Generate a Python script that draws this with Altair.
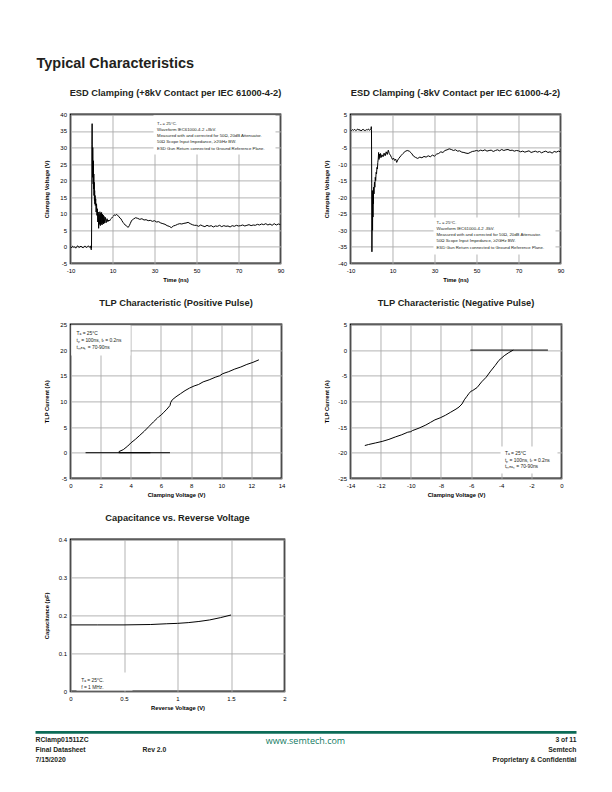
import altair as alt
import pandas as pd

NARROW = "Liberation Sans, Arial, sans-serif"
SANS = "Liberation Sans, Arial, sans-serif"
INK = "#231f20"
GREEN = "#0b6b57"
GRID = "#aaaaaa"

# ---------------- data ----------------
PRE_T = [-10, -9.5, -9, -8.5, -8, -7.5, -7, -6.5, -6, -5.5, -5, -4.5, -4, -3.5, -3,
         -2.5, -2, -1.5, -1, -0.5, -0.2, -0.1]

ESD_POS_T = PRE_T + [
    0.0, 0.1, 0.2, 0.3, 0.4, 0.5, 0.6, 0.7, 0.8, 0.9, 1.0, 1.1, 1.2, 1.3, 1.4, 1.5, 1.6,
    1.7, 1.8, 2.0, 2.2, 2.4, 2.6, 2.8, 3.0, 3.2, 3.4, 3.6, 3.8, 4.0, 4.2, 4.4, 4.6, 4.8,
    5.0, 5.2, 5.4, 5.6, 5.8, 6.0, 6.3, 6.6, 7.0, 7.4, 7.8, 8.2, 8.6, 9.0, 9.5,
    10, 10.5, 11, 11.5, 12, 12.5, 13, 13.5, 14, 14.5, 15, 15.5, 16, 16.5, 17, 17.5, 18,
    18.5, 19, 19.5, 20, 21, 22, 23, 24, 25, 26, 27, 28, 29, 30, 31, 32, 33, 34, 35, 36,
    37, 38, 39, 40, 41, 42, 43, 44, 45, 46, 47, 48, 49, 50, 51, 52, 53, 54, 55, 56, 57,
    58, 59, 60, 61, 62, 63, 64, 65, 66, 67, 68, 69, 70, 71, 72, 73, 74, 75, 76, 77, 78,
    79, 80, 81, 82, 83, 84, 85, 86, 87, 88, 89, 90]
ESD_POS_V = [
    0.1, -0.3, 0.2, -0.1, 0.0, -0.4, 0.1, 0.3, -0.2, 0.0, 0.2, -0.1, -0.3, 0.1, 0.2,
    -0.2, 0.0, 0.3, -0.1, 0.2, -0.7, -0.9,
    -0.5, 12, 31, 37.2, 26, 21, 30, 24, 19, 26, 17.5, 22, 15.5, 19.5, 14, 17, 13,
    15.5, 12.5, 14.5, 10.5, 13, 9.5, 11.5, 7.5, 10.5, 5.6, 9.8, 6.8, 10.6, 6.4, 10.2, 6.9, 10.4,
    6.6, 9.9, 7.1, 9.6, 6.9, 9.2, 7.2, 8.9, 7.3, 8.5, 7.6, 8.1, 7.8, 8.3, 8.6,
    9.0, 9.3, 9.7, 9.5, 9.8, 9.4, 9.2, 8.7, 8.5, 7.9, 7.4, 7.0, 6.6, 6.4, 6.1, 5.9, 6.4,
    7.1, 7.8, 8.2, 8.4, 8.8, 8.6, 8.3, 8.5, 8.1, 8.2, 7.9, 8.0, 7.7, 7.9, 7.5, 7.6, 7.2, 7.0, 6.8, 6.4,
    6.2, 5.8, 6.3, 6.5, 6.8, 7.0, 6.9, 7.1, 7.2, 7.4, 7.0, 6.7, 6.5, 6.5, 6.2, 6.6, 6.3, 6.1, 6.5, 6.2, 6.4,
    6.0, 6.3, 6.2, 6.5, 6.1, 6.4, 6.2, 6.3, 6.0, 6.4, 6.2, 6.5, 6.3, 6.4, 6.6, 6.3, 6.5, 6.7, 6.4,
    6.6, 6.5, 6.8, 6.6, 6.9, 6.7, 7.0, 6.6, 6.9, 6.5, 7.0, 6.6, 6.9, 6.7]

ESD_NEG_T = PRE_T + [
    0.0, 0.1, 0.2, 0.3, 0.4, 0.5, 0.6, 0.7, 0.8, 0.9, 1.0, 1.2, 1.4, 1.6, 1.8, 2.0, 2.2,
    2.4, 2.6, 2.8, 3.0, 3.2, 3.4, 3.6, 3.8, 4.0, 4.3, 4.6, 5.0, 5.5, 6.0, 6.5, 7.0, 7.5,
    8.0, 8.5, 9.0, 9.5, 10, 10.5, 11, 11.5, 12, 12.5, 13, 14, 15, 16, 17, 18, 19, 20,
    21, 22, 23, 24, 25, 26, 27, 28, 29, 30, 31, 32, 33, 34, 35, 36, 37, 38, 39, 40, 41,
    42, 43, 44, 45, 46, 47, 48, 49, 50, 51, 52, 53, 54, 55, 56, 57, 58, 59, 60, 61, 62,
    63, 64, 65, 66, 67, 68, 69, 70, 71, 72, 73, 74, 75, 76, 77, 78, 79, 80, 81, 82, 83,
    84, 85, 86, 87, 88, 89, 90]
ESD_NEG_V = [
    0.3, 0.1, 0.4, 0.2, 0.5, 0.1, 0.3, 0.6, 0.2, 0.4, 0.0, 0.3, 0.5, 0.2, 0.1, 0.4,
    0.3, 0.6, 0.2, 0.4, 0.8, 1.3,
    0.5, -16, -36.5, -27, -18, -30, -21, -26, -19, -22, -17, -19, -15.5, -17, -14, -15,
    -12.5, -13, -11, -11.5, -9.5, -8.5, -6.5, -8.6, -7.0, -8.1, -6.8, -8.0, -7.2, -7.8,
    -6.7, -7.5, -6.3, -7.1, -5.8, -6.9, -7.3, -8.0,
    -8.6, -8.2, -8.9, -8.5, -9.5, -8.8, -8.3, -7.5, -6.8, -6.2, -5.9, -6.1, -6.7, -7.6,
    -8.0, -8.3, -7.9, -8.1, -7.7, -7.9, -7.5, -7.8, -7.3, -7.6, -7.0, -6.8, -6.3, -6.5,
    -5.9, -5.7, -5.4, -5.6, -5.9, -5.7, -6.1, -6.0, -6.4, -6.5, -6.7, -6.8, -6.5, -6.2, -6.1,
    -5.9, -6.1, -5.8, -6.0, -5.7, -6.1, -5.9, -5.8, -6.2, -5.9, -5.7, -6.0, -5.6, -5.9,
    -5.7, -5.6, -5.9, -5.8, -6.1, -5.9, -6.0,
    -6.3, -6.1, -6.4, -6.2, -6.0, -6.5, -6.3, -6.1, -6.4, -6.2, -6.6, -6.3, -6.1, -6.5,
    -6.3, -6.7, -6.2, -6.4, -6.1, -6.3]

TLP_POS_V = [3.2, 3.5, 3.8, 4.0, 4.3, 4.6, 4.9, 5.2, 5.5, 5.75, 5.85, 6.0, 6.2, 6.4, 6.6,
             6.65, 6.75, 7.0, 7.3, 7.6, 7.9, 8.2, 8.5, 8.8, 9.2, 9.6, 9.9, 10.1, 10.5,
             10.9, 11.3, 11.7, 12.1, 12.5]
TLP_POS_I = [0.2, 0.6, 1.3, 1.9, 2.6, 3.4, 4.2, 5.1, 6.0, 6.7, 7.0, 7.3, 7.9, 8.5, 9.2,
             9.8, 10.3, 10.9, 11.5, 12.1, 12.6, 13.0, 13.3, 13.8, 14.2, 14.7, 15.0, 15.4,
             15.8, 16.3, 16.7, 17.2, 17.6, 18.1]
TLP_POS_BASE_V = [1.0, 6.6]
TLP_POS_BASE2_V = [3.2, 5.3]

TLP_NEG_V = [-3.2, -3.5, -3.8, -4.15, -4.4, -4.7, -5.0, -5.3, -5.6, -5.9, -6.0, -6.15,
             -6.3, -6.45, -6.6, -6.8, -7.0, -7.35, -7.7, -8.05, -8.4, -8.7, -9.0, -9.45,
             -9.9, -10.0, -10.2, -10.6, -11.0, -11.45, -11.9, -12.35, -12.8, -13.05]
TLP_NEG_I = [0.0, -0.5, -1.1, -2.0, -3.0, -4.1, -5.3, -6.2, -7.3, -7.9, -8.0, -8.5,
             -9.1, -9.7, -10.5, -11.1, -11.5, -12.1, -12.7, -13.2, -13.6, -14.1, -14.6,
             -15.2, -15.7, -15.9, -16.0, -16.5, -16.9, -17.4, -17.8, -18.1, -18.4, -18.6]
TLP_NEG_BASE_V = [-6.05, -0.9]

CAP_VR = [0, 0.25, 0.5, 0.75, 0.9, 1.0, 1.1, 1.2, 1.3, 1.4, 1.5]
CAP_C = [0.175, 0.175, 0.175, 0.176, 0.178, 0.179, 0.181, 0.184, 0.188, 0.194, 0.201]

NOTE_ESD_POS = ["Tₐ = 25°C.", "Waveform IEC61000-4-2 +8kV.",
                "Measured with and corrected for 50Ω, 20dB Attenuator.",
                "50Ω Scope Input Impedance, ≥2GHz BW.",
                "ESD Gun Return connected to Ground Reference Plane."]
NOTE_ESD_NEG = ["Tₐ = 25°C.", "Waveform IEC61000-4-2 -8kV.",
                "Measured with and corrected for 50Ω, 20dB Attenuator.",
                "50Ω Scope Input Impedance, ≥2GHz BW.",
                "ESD Gun Return connected to Ground Reference Plane."]
NOTE_TLP = ["Tₐ = 25°C", "tₚ = 100ns, tᵣ = 0.2ns", "tₘₑₐₛ = 70-90ns"]
NOTE_CAP = ["Tₐ = 25°C.", "f = 1 MHz."]

FOOT_LEFT = ["RClamp01511ZC", "Final Datasheet", "7/15/2020"]
FOOT_RIGHT = ["3 of 11", "Semtech", "Proprietary & Confidential"]

ONE = pd.DataFrame({"k": [0]})


def series(parts):
    rows = []
    for name, xs, ys in parts:
        for a, b in zip(xs, ys):
            rows.append({"s": name, "x": a, "y": b})
    return pd.DataFrame(rows)


def panel(title, w, h, df, names, colors, widths, xdom, ydom, xvals, yvals,
          xtitle, ytitle, note, nx, ny, nfs, nlh, box):
    rect = alt.Chart(ONE).mark_rect(fill="white").encode(
        x=alt.value(box[0]), x2=alt.value(box[1]), y=alt.value(box[2]), y2=alt.value(box[3]))
    line = alt.Chart(df).mark_line(clip=True).encode(
        x=alt.X("x:Q", scale=alt.Scale(domain=xdom, nice=False, zero=False),
                axis=alt.Axis(values=xvals, title=xtitle, labelExpr="'' + datum.value",
                              labelFlush=False)),
        y=alt.Y("y:Q", scale=alt.Scale(domain=ydom, nice=False, zero=False),
                axis=alt.Axis(values=yvals, title=ytitle, labelExpr="'' + datum.value")),
        detail="s:N",
        color=alt.Color("s:N", scale=alt.Scale(domain=names, range=colors)),
        strokeWidth=alt.StrokeWidth("s:N", scale=alt.Scale(domain=names, range=widths)),
    )
    txt = alt.Chart(ONE).mark_text(align="left", baseline="top", font=NARROW,
                                   fontSize=nfs, lineHeight=nlh, color=INK).encode(
        x=alt.value(nx), y=alt.value(ny), text=alt.value(note))
    return alt.layer(rect, line, txt).properties(width=w, height=h, title=title)


c1 = panel("ESD Clamping (+8kV Contact per IEC 61000-4-2)", 210, 149,
           series([("esd", ESD_POS_T, ESD_POS_V)]), ["esd"], ["black"], [1.4],
           [-10, 90], [-5, 40], [-10, 10, 30, 50, 70, 90], list(range(-5, 45, 5)),
           "Time (ns)", "Clamping Voltage (V)", NOTE_ESD_POS, 86.6, 7.5, 4.3, 6.2,
           (83, 205, 0.8, 40))
c2 = panel("ESD Clamping (-8kV Contact per IEC 61000-4-2)", 210, 149,
           series([("esd", ESD_NEG_T, ESD_NEG_V)]), ["esd"], ["black"], [1.4],
           [-10, 90], [-40, 5], [-10, 10, 30, 50, 70, 90], list(range(-40, 10, 5)),
           "Time (ns)", "Clamping Voltage (V)", NOTE_ESD_NEG, 86, 106.5, 4.3, 6.2,
           (83, 205, 103, 140))
c3 = panel("TLP Characteristic (Positive Pulse)", 211, 154,
           series([("base", TLP_POS_BASE_V, [0, 0]), ("base2", TLP_POS_BASE2_V, [0, 0]),
                   ("curve", TLP_POS_V, TLP_POS_I)]),
           ["base", "base2", "curve"], ["#555555", "black", "black"], [1.5, 1.2, 1.2],
           [0, 14], [-5, 25], list(range(0, 16, 2)), list(range(-5, 30, 5)),
           "Clamping Voltage (V)", "TLP Current  (A)", NOTE_TLP, 6, 6.8, 4.9, 7.1,
           (0.8, 60, 0.8, 31))
c4 = panel("TLP Characteristic (Negative Pulse)", 211, 154,
           series([("base", TLP_NEG_BASE_V, [0, 0]), ("curve", TLP_NEG_V, TLP_NEG_I)]),
           ["base", "curve"], ["black", "black"], [1.3, 1.2],
           [-14, 0], [-25, 5], list(range(-14, 2, 2)), list(range(-25, 10, 5)),
           "Clamping Voltage (V)", "TLP Current  (A)", NOTE_TLP, 154.4, 126.8, 4.9, 6.6,
           (150, 207, 122, 149))
c5 = panel("Capacitance vs. Reverse Voltage", 214, 152,
           series([("cap", CAP_VR, CAP_C)]), ["cap"], ["black"], [1.3],
           [0, 2], [0, 0.4], [0, 0.5, 1, 1.5, 2], [0, 0.1, 0.2, 0.3, 0.4],
           "Reverse Voltage (V)", "Capacitance (pF)", NOTE_CAP, 10.7, 138.8, 4.9, 6.7,
           (6, 62, 133, 151))

# page header / footer, placed relative to the last grid cell
rule = alt.Chart(ONE).mark_rule(color=GREEN, strokeWidth=2.6).encode(
    x=alt.value(-315), x2=alt.value(226), y=alt.value(193))
header = alt.Chart(ONE).mark_text(align="left", baseline="top", font=NARROW, fontSize=14.5,
                                  fontWeight="bold", color=INK).encode(
    x=alt.value(-314), y=alt.value(-482.5), text=alt.value("Typical Characteristics"))
fl = alt.Chart(ONE).mark_text(align="left", baseline="top", font=NARROW, fontSize=6.8,
                              fontWeight="bold", lineHeight=10, color=INK).encode(
    x=alt.value(-315), y=alt.value(198), text=alt.value(FOOT_LEFT))
rev = alt.Chart(ONE).mark_text(align="left", baseline="top", font=NARROW, fontSize=6.8,
                               fontWeight="bold", color=INK).encode(
    x=alt.value(-208), y=alt.value(208), text=alt.value("Rev 2.0"))
www = alt.Chart(ONE).mark_text(align="center", baseline="top", font="Open Sans", fontSize=9,
                               color="#127a63").encode(
    x=alt.value(-45), y=alt.value(197.8), text=alt.value("www.semtech.com"))
fr = alt.Chart(ONE).mark_text(align="right", baseline="top", font=NARROW, fontSize=6.8,
                              fontWeight="bold", lineHeight=10, color=INK).encode(
    x=alt.value(226), y=alt.value(198), text=alt.value(FOOT_RIGHT))
host = alt.layer(rule, header, fl, rev, www, fr).properties(
    width=1, height=1, view=alt.ViewBackground(stroke="transparent"))

chart = alt.concat(c1, c2, c3, c4, c5, host, columns=2, bounds="flush", align="each",
                   spacing={"row": 61, "column": 66}).properties(
    padding={"left": 24.5, "top": 46.4, "right": 5, "bottom": 5}
).configure_axis(
    grid=True, gridColor=GRID, gridWidth=0.9, domain=False, ticks=False,
    labelFont=SANS, labelFontSize=6, labelColor="black", labelPadding=4,
    titleFont=SANS, titleFontSize=5.8, titleFontWeight="bold", titleColor="black"
).configure_axisX(titlePadding=3).configure_axisY(
    titlePadding=6, minExtent=15, maxExtent=15
).configure_view(stroke="black", strokeWidth=1.6).configure_title(
    font=NARROW, fontSize=9.3, fontWeight="bold", color=INK, baseline="bottom", offset=13
).configure_legend(disable=True)

chart.save("out.html", embed_options={"renderer": "svg", "actions": False})
